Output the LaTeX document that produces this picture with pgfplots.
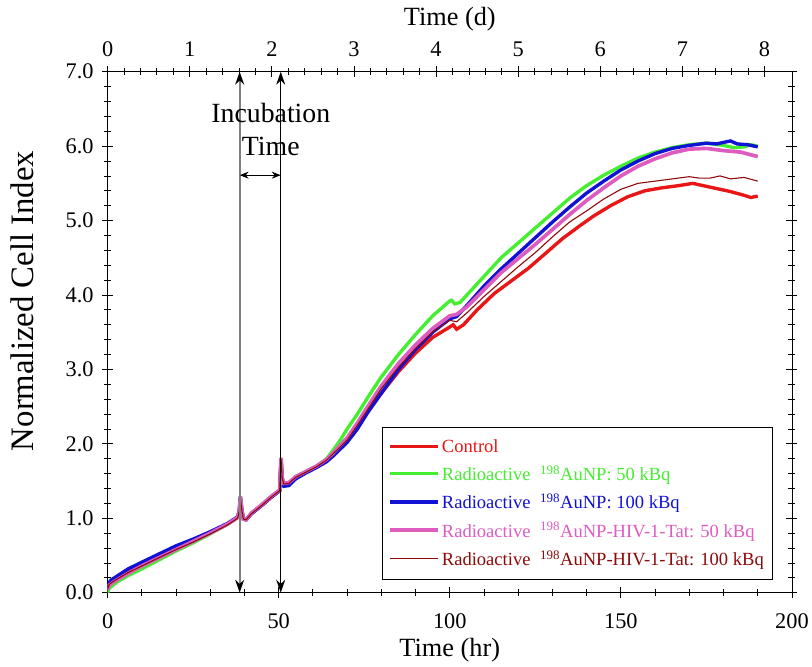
\documentclass[border=0pt]{standalone}
\usepackage{pgfplots}
\pgfplotsset{compat=1.18}
\usepackage{fontspec}
\setmainfont{Liberation Serif}
\usetikzlibrary{arrows.meta}
\definecolor{cRed}{RGB}{232,22,22}
\definecolor{cGreen}{RGB}{70,238,50}
\definecolor{cBlue}{RGB}{18,18,212}
\definecolor{cPink}{RGB}{222,92,192}
\definecolor{cBrown}{RGB}{140,10,10}
\begin{document}
\begin{tikzpicture}
\begin{axis}[name=main,
  width=687bp, height=523bp, scale only axis,
  xmin=0, xmax=200, ymin=0, ymax=7,
  xtick={0,50,...,200}, minor x tick num=4,
  ytick={0,1,...,7}, minor y tick num=4,
  xtick pos=left, ytick pos=both,
  tick align=center,
  major tick length=11bp, minor tick length=7bp,
  every tick/.style={black, line width=0.8pt},
  axis line style={line width=0.8pt},
  /pgf/number format/assume math mode=true,
  ticklabel style={font=\fontsize{22.5}{26}\selectfont},
  yticklabel style={xshift=-5bp, /pgf/number format/.cd, fixed, fixed zerofill, precision=1},
  xticklabel style={yshift=-12bp},
  xlabel={Time (hr)},
  xlabel style={font=\fontsize{26.5}{30}\selectfont, at={(axis description cs:0.5,-0.11)}, anchor=center},
  ylabel={Normalized Cell Index},
  ylabel style={font=\fontsize{33}{36}\selectfont, at={(axis description cs:-0.125,0.56)}, anchor=center},
  legend cell align=left,
  legend style={at={(0.971,0.319)}, anchor=north east, draw=black, line width=0.6pt,
    font=\fontsize{18.7}{22}\selectfont, row sep=8bp, inner xsep=6bp, inner ysep=10.5bp},
  legend image code/.code={\draw[#1] (0bp,0bp) -- (48bp,0bp);},
]
% Control
\addplot[cRed, line width=3.4pt] coordinates {
(0,0.02)(0.5,0.11)(1,0.14)(3,0.2)(6,0.28)(10,0.37)(15,0.48)(20,0.59)(25,0.69)(30,0.80)(35,0.92)(38,1.01)(38.5,1.1)(38.8,1.29)(39.2,1.12)(39.7,0.99)(40.5,0.98)(42,1.06)(45,1.17)(48,1.29)(50.3,1.37)(50.5,1.6)(50.7,1.81)(51,1.55)(51.5,1.46)(53,1.47)(55,1.55)(58,1.62)(61,1.69)(64,1.78)(66,1.86)(70,2.03)(73,2.22)(76,2.43)(80,2.68)(85,2.97)(90,3.22)(95,3.43)(100,3.57)(101,3.60)(102,3.54)(104,3.6)(108,3.8)(113,4.02)(118,4.19)(123,4.36)(128,4.56)(133,4.76)(138,4.93)(142,5.06)(147,5.2)(152,5.32)(157,5.40)(162,5.44)(167,5.47)(171,5.5)(174,5.47)(178,5.43)(182,5.39)(186,5.34)(188,5.31)(190,5.33)};
\addlegendentry{\textcolor{cRed}{Control}}
% Green 50 kBq
\addplot[cGreen, line width=3.4pt] coordinates {
(0,0.0)(0.5,0.06)(1,0.08)(3,0.15)(6,0.23)(10,0.32)(15,0.44)(20,0.56)(25,0.67)(30,0.79)(35,0.92)(38,1.01)(38.5,1.1)(38.8,1.29)(39.2,1.12)(39.7,0.99)(40.5,0.98)(42,1.07)(45,1.18)(48,1.3)(50.3,1.38)(50.5,1.6)(50.7,1.81)(51,1.55)(51.5,1.47)(53,1.48)(55,1.56)(58,1.63)(61,1.7)(64,1.8)(66,1.92)(68,2.05)(70,2.2)(73,2.4)(76,2.62)(80,2.9)(85,3.2)(90,3.47)(95,3.72)(100,3.92)(100.5,3.93)(101.5,3.88)(103,3.9)(105,4.0)(110,4.25)(115,4.5)(120,4.7)(125,4.9)(130,5.1)(135,5.3)(140,5.47)(145,5.61)(150,5.73)(155,5.84)(160,5.92)(165,5.98)(170,6.02)(175,6.04)(180,6.01)(183,5.98)(186,5.99)(188,6.02)(190,6.0)};
\addlegendentry{\textcolor{cGreen}{Radioactive\hspace{5bp} \textsuperscript{198}AuNP: 50 kBq}}
% Blue 100 kBq
\addplot[cBlue, line width=3.4pt] coordinates {
(0,0.1)(0.5,0.14)(1,0.17)(3,0.23)(6,0.32)(10,0.41)(15,0.52)(20,0.63)(25,0.72)(30,0.82)(35,0.93)(38,1.02)(38.5,1.1)(38.8,1.29)(39.2,1.12)(39.7,0.99)(40.5,0.98)(42,1.06)(45,1.17)(48,1.29)(50.3,1.37)(50.5,1.6)(50.7,1.8)(51,1.52)(51.5,1.43)(53,1.44)(55,1.53)(58,1.61)(61,1.68)(64,1.76)(66,1.84)(68,1.93)(70,2.02)(73,2.2)(76,2.42)(80,2.68)(85,3.0)(90,3.27)(95,3.5)(100,3.68)(102,3.71)(105,3.86)(110,4.12)(115,4.35)(120,4.56)(125,4.77)(130,4.98)(135,5.18)(140,5.37)(145,5.53)(150,5.68)(155,5.80)(160,5.90)(165,5.97)(170,6.01)(175,6.04)(178,6.03)(182,6.07)(184,6.03)(187,6.02)(190,5.99)};
\addlegendentry{\textcolor{cBlue}{Radioactive\hspace{5bp} \textsuperscript{198}AuNP: 100 kBq}}
% Pink HIV-1-Tat 50
\addplot[cPink, line width=3.7pt] coordinates {
(0,0.04)(0.5,0.1)(1,0.12)(3,0.18)(6,0.26)(10,0.36)(15,0.47)(20,0.58)(25,0.69)(30,0.80)(35,0.92)(38,1.01)(38.5,1.1)(38.8,1.29)(39.2,1.12)(39.7,0.99)(40.5,0.98)(42,1.07)(45,1.18)(48,1.3)(50.3,1.38)(50.5,1.6)(50.7,1.81)(51,1.55)(51.5,1.47)(53,1.48)(55,1.56)(58,1.63)(61,1.7)(64,1.79)(66,1.88)(68,1.98)(70,2.08)(73,2.28)(76,2.5)(80,2.78)(85,3.08)(90,3.33)(95,3.55)(100,3.72)(102,3.74)(105,3.84)(110,4.07)(115,4.3)(120,4.49)(125,4.68)(130,4.88)(135,5.08)(140,5.27)(145,5.44)(150,5.6)(155,5.73)(160,5.83)(165,5.91)(170,5.96)(175,5.97)(180,5.94)(185,5.92)(190,5.86)};
\addlegendentry{\textcolor{cPink}{Radioactive\hspace{5bp} \textsuperscript{198}AuNP-HIV-1-Tat: 50 kBq}}
% Brown HIV-1-Tat 100
\addplot[cBrown, line width=1.1pt] coordinates {
(0,0.05)(0.5,0.11)(1,0.13)(3,0.19)(6,0.27)(10,0.36)(15,0.47)(20,0.58)(25,0.68)(30,0.79)(35,0.91)(38,1.0)(38.5,1.1)(38.8,1.28)(39.2,1.12)(39.7,0.99)(40.5,0.98)(42,1.06)(45,1.17)(48,1.29)(50.3,1.37)(50.5,1.6)(50.7,1.8)(51,1.54)(51.5,1.46)(53,1.47)(55,1.55)(58,1.62)(61,1.69)(64,1.78)(66,1.87)(70,2.05)(73,2.25)(76,2.46)(80,2.74)(85,3.03)(90,3.28)(95,3.5)(100,3.66)(102,3.64)(105,3.76)(110,3.98)(115,4.18)(120,4.38)(125,4.57)(130,4.78)(135,4.98)(140,5.13)(145,5.29)(150,5.42)(155,5.5)(160,5.53)(165,5.56)(170,5.59)(173,5.57)(176,5.57)(179,5.6)(182,5.56)(186,5.58)(190,5.53)};
\addlegendentry{\textcolor{cBrown}{Radioactive\hspace{5bp} \textsuperscript{198}AuNP-HIV-1-Tat: 100 kBq}}
% Incubation annotations
\draw[line width=1.7bp, gray, {Stealth[black,length=13bp,width=9bp]}-{Stealth[black,length=13bp,width=9bp]}] (axis cs:38.6,0) -- (axis cs:38.6,7);
\draw[line width=1.1bp, black, {Stealth[length=13bp,width=9bp]}-{Stealth[length=13bp,width=9bp]}] (axis cs:50.6,0) -- (axis cs:50.6,7);
\draw[line width=1.1bp, black, {Stealth[length=9bp,width=7bp]}-{Stealth[length=9bp,width=7bp]}] (axis cs:38.6,5.61) -- (axis cs:50.6,5.61);
\node[align=center, font=\fontsize{28}{33}\selectfont, inner sep=0pt] at (axis cs:47.7,6.22) {Incubation\\Time};
\end{axis}
\begin{axis}[
  width=687bp, height=523bp, scale only axis,
  xmin=0, xmax=8.33333, ymin=0, ymax=7,
  axis x line*=top, axis y line=none,
  xtick={0,1,...,8}, minor x tick num=4,
  tick align=center,
  major tick length=11bp, minor tick length=7bp,
  every tick/.style={black, line width=0.8pt},
  axis line style={line width=0.8pt},
  /pgf/number format/assume math mode=true,
  ticklabel style={font=\fontsize{22.5}{26}\selectfont},
  xticklabel style={yshift=6bp},
  xlabel={Time (d)},
  xlabel style={font=\fontsize{26.5}{30}\selectfont, at={(axis description cs:0.5,1.1)}, anchor=center},
]
\end{axis}
\useasboundingbox ([xshift=-108bp,yshift=-74bp]main.south west) rectangle ([xshift=17bp,yshift=72bp]main.north east);
\end{tikzpicture}
\end{document}
